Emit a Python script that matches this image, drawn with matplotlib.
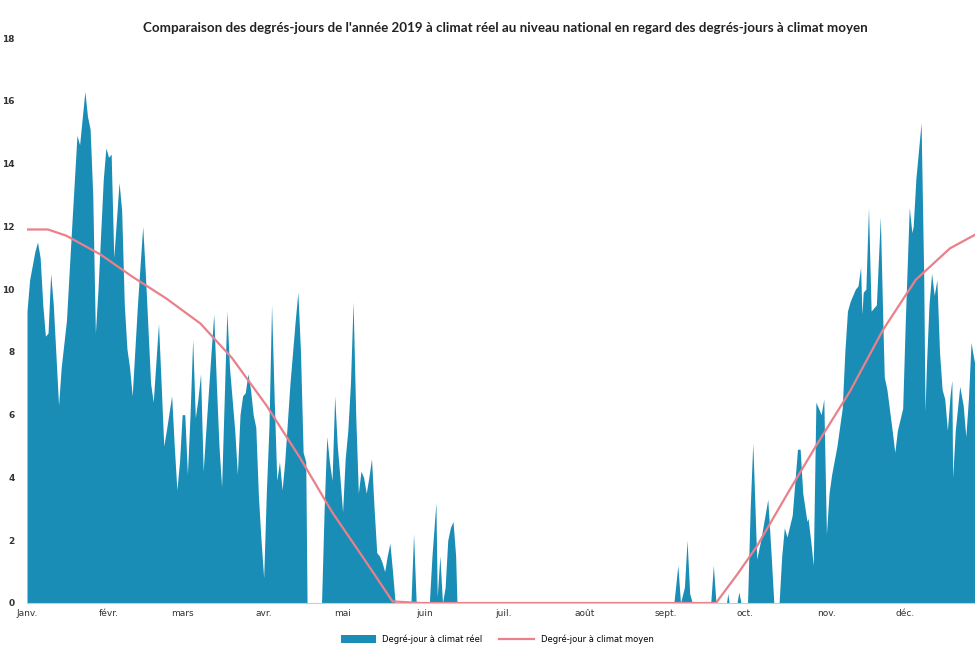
import matplotlib
matplotlib.use("Agg")
import matplotlib.pyplot as plt
from matplotlib.lines import Line2D
from matplotlib.patches import Patch

title = "Comparaison des degrés-jours de l'année 2019 à climat réel au niveau national en regard des degrés-jours à climat moyen"
month_labels = ['Janv.', 'févr.', 'mars', 'avr.', 'mai', 'juin', 'juil.', 'août', 'sept.', 'oct.', 'nov.', 'déc.']
month_start_days = [0, 31, 59, 90, 120, 151, 181, 212, 243, 273, 304, 334]
y_ticks = [0, 2, 4, 6, 8, 10, 12, 14, 16, 18]

# Degré-jour à climat réel (day of year, value)
real_days = [0, 1, 3, 4, 5, 6, 7, 8, 9, 10, 12, 13, 15, 17, 19, 20, 22, 23, 24, 25, 26, 27, 29, 30, 31, 32, 33, 35, 36, 37,
             38, 39, 40, 42, 44, 45, 47, 48, 50, 51, 52, 53, 55, 56, 57, 58, 59, 60, 61, 62, 63, 64, 65, 66, 67, 68, 70, 71, 72, 73,
             74, 75, 76, 77, 78, 79, 80, 81, 82, 83, 84, 85, 86, 87, 88, 89, 90, 91, 92, 93, 94, 95, 96, 97, 98, 100, 102, 103, 104, 105,
             106, 106.5, 112, 113, 114, 115, 116, 117, 118, 119, 120, 121, 122, 123, 124, 125, 126, 127, 128, 129, 130, 131, 132, 133, 134, 135, 136, 137, 138, 139,
             140, 146, 147, 148, 153, 154, 155.5, 156, 157, 158, 159, 160, 161, 162, 163, 163.5,
             246, 247.5, 248.5, 250, 251, 252, 253, 260, 261, 262, 266, 266.5, 267, 270, 270.7, 271.5, 274, 275, 276, 277.5,
             279, 281.7, 283, 284, 286, 287, 288, 289, 291, 293, 294, 295, 296.6, 297, 298, 299, 300, 301, 302, 303,
             304, 305, 306, 308, 310, 311, 312, 313, 315, 316, 317, 317.5, 318, 319, 320, 321, 323, 324.5, 325.5, 326,
             327, 329, 330, 331, 333, 334, 335.5, 336.5, 337, 338, 340, 341, 341.5, 342, 343, 344, 345, 346, 347, 348,
             349, 350, 351, 351.7, 352, 353, 354.7, 356, 357, 358, 359, 360, 362]
real_values = [9.3, 10.3, 11.2, 11.5, 11.0, 9.5, 8.5, 8.6, 10.5, 9.5, 6.3, 7.5, 9.0, 12.0, 14.9, 14.6, 16.3, 15.5, 15.1, 13.0, 8.6, 10.0, 13.5, 14.5, 14.2, 14.3, 11.0, 13.4, 12.5, 9.5,
               8.1, 7.5, 6.6, 9.5, 12.0, 10.5, 7.0, 6.4, 8.9, 7.0, 5.0, 5.5, 6.6, 5.0, 3.6, 4.5, 6.0, 6.0, 4.1, 6.0, 8.4, 5.9, 6.5, 7.3, 4.2, 5.5, 8.0, 9.2, 7.0, 5.0,
               3.7, 6.5, 9.3, 7.5, 6.5, 5.5, 4.1, 6.0, 6.6, 6.7, 7.3, 6.8, 6.0, 5.6, 3.4, 2.0, 0.8, 3.5, 5.6, 9.5, 6.5, 3.9, 4.5, 3.6, 4.5, 7.0, 9.0, 9.9, 8.0, 4.8,
               4.5, 0.0, 0.0, 3.0, 5.3, 4.5, 3.9, 6.6, 5.0, 4.0, 2.9, 4.6, 5.5, 7.0, 9.6, 6.0, 3.5, 4.2, 4.0, 3.5, 4.0, 4.6, 3.0, 1.6, 1.5, 1.3, 1.0, 1.5, 1.9, 1.0,
               0.0, 0.0, 2.2, 0.0, 0.0, 1.5, 3.2, 0.2, 1.5, 0.0, 0.5, 2.0, 2.4, 2.6, 1.5, 0.0,
               0.0, 1.2, 0.0, 0.5, 2.0, 0.3, 0.0, 0.0, 1.2, 0.0, 0.0, 0.3, 0.0, 0.0, 0.35, 0.0, 0.0, 3.0, 5.1, 1.4,
               2.0, 3.3, 1.5, 0.0, 0.0, 1.5, 2.4, 2.1, 2.8, 4.9, 4.9, 3.5, 2.6, 2.7, 2.0, 1.2, 6.4, 6.2, 6.0, 6.5,
               2.2, 3.5, 4.1, 5.0, 6.2, 8.0, 9.3, 9.6, 10.0, 10.1, 10.7, 9.2, 9.9, 10.0, 12.6, 9.3, 9.5, 12.3, 8.8, 7.2,
               6.8, 5.5, 4.8, 5.5, 6.2, 9.0, 12.6, 11.8, 12.0, 13.5, 15.3, 10.4, 6.1, 7.5, 9.5, 10.5, 9.8, 10.3, 8.0, 6.8,
               6.5, 5.5, 6.6, 7.1, 4.0, 5.5, 6.9, 6.3, 5.3, 6.5, 8.3, 7.8, 7.0]

# Degré-jour à climat moyen (day of year, value)
avg_days = [0, 8, 15, 28, 40, 53, 66, 78, 91, 104, 116, 129, 139, 150, 200, 262, 270, 277.5, 290, 300, 313, 325.5, 338, 351, 362]
avg_values = [11.9, 11.9, 11.7, 11.1, 10.4, 9.7, 8.9, 7.8, 6.3, 4.6, 2.9, 1.3, 0.05, 0.0, 0.0, 0.0, 0.9, 1.8, 3.6, 5.0, 6.75, 8.7, 10.3, 11.3, 11.8]

blue = '#1a8db6'
red = '#e9808a'

fig = plt.figure(figsize=(9.75, 6.49), dpi=100)
ax = fig.add_axes([0.0277, 0.0709, 0.9723, 0.8705])

ax.fill_between(real_days, real_values, 0, color=blue, linewidth=0, label='Degré-jour à climat réel')
ax.plot(avg_days, avg_values, color=red, linewidth=1.6, label='Degré-jour à climat moyen')

ax.set_xlim(0, 360.5)
ax.set_ylim(0, 18)
ax.set_yticks(y_ticks)
ax.set_yticklabels([str(v) for v in y_ticks], fontsize=6.5, color='#333333', fontweight='bold')
ax.set_xticks(month_start_days)
ax.set_xticklabels(month_labels, fontsize=6.5, color='#333333')
ax.tick_params(axis='both', length=0, pad=4)
ax.tick_params(axis='y', pad=9)
for s in ['top', 'right', 'left']:
    ax.spines[s].set_visible(False)
ax.spines['bottom'].set_color('#cccccc')
ax.spines['bottom'].set_linewidth(0.8)

fig.text(0.518, 0.957, title, ha='center', va='center', fontsize=9.6, fontweight='bold',
         family=['Lato', 'DejaVu Sans'], color='#222222')

handles = [Patch(facecolor=blue, edgecolor='none'), Line2D([0], [0], color=red, linewidth=1.6)]
fig.legend(handles, ['Degré-jour à climat réel', 'Degré-jour à climat moyen'], loc='center',
           bbox_to_anchor=(0.51, 0.015), ncol=2, frameon=False, fontsize=6, handlelength=4.2,
           handleheight=1.0, columnspacing=2.0)

fig.savefig('out.png', dpi=100, facecolor='white')
